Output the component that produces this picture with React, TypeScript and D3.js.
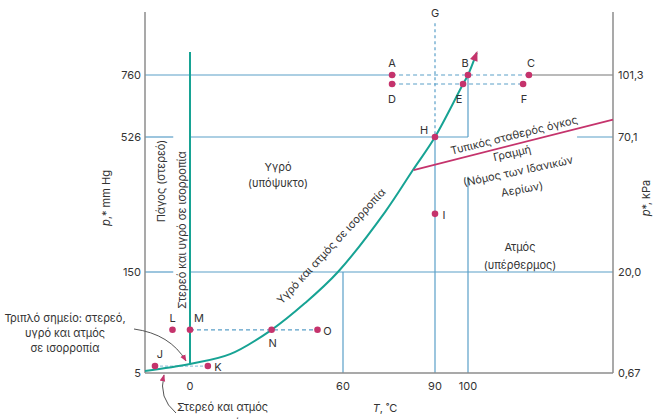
import React from "react";
import * as d3 from "d3";

// Schematic axis anchors (value -> tick)
const tTicks = [0, 60, 90, 100];
const pTicks = [5, 150, 526, 760];
const kPaTicks = ["0,67", "20,0", "70,1", "101,3"];
const tDomain = [-18, 0, 60, 90, 100, 150];
const pDomain = [5, 150, 526, 760, 900];

// Vapour-liquid equilibrium curve (T, p)
const vlCurve: [number, number][] = [
  [-18, 7.9], [0, 18], [15.7, 32], [32, 67], [45, 105], [58, 150],
  [73.7, 317], [82.8, 434], [90, 526], [98.5, 726], [100, 760], [103, 809],
];
// Solid-liquid line at T = 0
const slLine: [number, number][] = [[0, 811], [0, 18]];
// Ideal-gas constant-volume line
const gasLine: [number, number][] = [[83, 434], [150, 592]];

// Labelled states
const pointNames = ["A", "B", "C", "D", "E", "F", "H", "I", "L", "M", "N", "O", "J", "K"];
const pointT = [76, 100, 121, 76, 98.5, 119, 90, 90, -7, 0, 32, 50, -14, 7];
const pointP = [760, 760, 760, 726, 726, 726, 526, 312, 67, 67, 67, 67, 15, 15];
const labelDx = [0, -3, 2, 0, -4, 1, -11, 9, 0, 9, 1, 10, 5, 10];
const labelDy = [-12, -12, -12, 15, 15, 15, -7, 1, -12, -12, 13, 1, -12, 1];

const W = 654, H = 419;

export default function App() {
  const x = d3.scaleLinear().domain(tDomain).range([145, 190, 343, 435, 468, 613]);
  const y = d3.scaleLinear().domain(pDomain).range([373, 272, 137, 75, 12]);
  const line = d3.line<[number, number]>().x(d => x(d[0])).y(d => y(d[1]));
  const curve = d3.line<[number, number]>().x(d => x(d[0])).y(d => y(d[1])).curve(d3.curveCatmullRom.alpha(0.5));

  const blue = "#5a9fc8";
  const teal = "#17a394";
  const mag = "#c5336c";
  const gray = "#8c8c8c";
  const txt = "#333";
  const font = "Inter, 'Noto Sans', sans-serif";

  const hseg = (p: number, t0: number, t1: number, color: string, dash?: string, key?: string) => (
    <line key={key} x1={x(t0)} x2={x(t1)} y1={y(p)} y2={y(p)} stroke={color} strokeWidth={1.2} strokeDasharray={dash} />
  );
  const vseg = (t: number, p0: number, p1: number, color: string, dash?: string, key?: string) => (
    <line key={key} x1={x(t)} x2={x(t)} y1={y(p0)} y2={y(p1)} stroke={color} strokeWidth={1.2} strokeDasharray={dash} />
  );

  const tipA = vlCurve[vlCurve.length - 2];
  const tipB = vlCurve[vlCurve.length - 1];
  const ang = Math.atan2(y(tipB[1]) - y(tipA[1]), x(tipB[0]) - x(tipA[0])) * 180 / Math.PI;

  return (
    <svg width={W} height={H} style={{ position: "absolute", left: 0, top: 0, background: "#fff" }} fontFamily={font}>
      <defs>
        <marker id="ah" viewBox="0 0 10 10" refX="9" refY="5" markerWidth="7" markerHeight="7" orient="auto">
          <path d="M0,1 L10,5 L0,9 z" fill={mag} />
        </marker>
      </defs>

      {/* blue grid/guide lines */}
      {hseg(760, -18, 76, blue)}
      {hseg(760, 121, 150, "#777")}
      {hseg(526, -18, -6.7, blue)}
      {hseg(526, 0, 100, blue)}
      {hseg(526, 137.6, 150, blue)}
      {hseg(150, -18, -6.7, blue)}
      {hseg(150, 0, 150, blue)}
      {vseg(60, 150, 5, blue)}
      {vseg(90, 526, 5, blue)}
      {vseg(100, 760, 526, blue)}
      {vseg(100, 415, 5, blue)}

      {/* dashed guides */}
      {hseg(760, 76, 121, blue, "4,3")}
      {hseg(726, 76, 119, blue, "4,3")}
      {hseg(67, 0, 50, blue, "4,3")}
      {hseg(15, -14, 7, "#9cc7dd", "3,2")}
      {vseg(90, 875, 526, blue, "3,3")}

      {/* axes */}
      <line x1={145} x2={145} y1={12} y2={373} stroke={gray} strokeWidth={1.5} />
      <line x1={613} x2={613} y1={12} y2={373} stroke={gray} strokeWidth={1.5} />
      <line x1={145} x2={613} y1={373} y2={373} stroke={gray} strokeWidth={1.5} />

      {/* phase boundaries */}
      <path d={line(slLine) || ""} stroke={teal} strokeWidth={2} fill="none" />
      <path d={curve(vlCurve) || ""} stroke={teal} strokeWidth={2} fill="none" />
      <path d={`M0,-4 L10,0 L0,4 z`} fill={mag} transform={`translate(${x(tipB[0])},${y(tipB[1])}) rotate(${ang}) translate(-8,0)`} />
      <path d={line(gasLine) || ""} stroke={mag} strokeWidth={1.8} fill="none" />

      {/* points */}
      {pointNames.map((n, i) => (
        <g key={n}>
          <circle cx={x(pointT[i])} cy={y(pointP[i])} r={3.3} fill={mag} />
          <text x={x(pointT[i]) + labelDx[i]} y={y(pointP[i]) + labelDy[i]} fontSize={11} fill={txt} textAnchor="middle" dominantBaseline="central">{n}</text>
        </g>
      ))}
      <text x={x(90)} y={13} fontSize={11} fill={txt} textAnchor="middle" dominantBaseline="central">G</text>

      {/* tick labels */}
      {pTicks.map(p => (
        <text key={p} x={141} y={y(p)} fontSize={11} fill={txt} textAnchor="end" dominantBaseline="central">{p}</text>
      ))}
      {kPaTicks.map((k, i) => (
        <text key={k} x={618} y={y(pTicks[i])} fontSize={11} fill={txt} textAnchor="start" dominantBaseline="central">{k}</text>
      ))}
      {tTicks.map(t => (
        <text key={t} x={x(t)} y={386} fontSize={11} fill={txt} textAnchor="middle" dominantBaseline="central">{t}</text>
      ))}

      {/* axis titles */}
      <text x={385} y={408} fontSize={11} fill={txt} textAnchor="middle" dominantBaseline="central">
        <tspan fontStyle="italic">T</tspan>, ˚C
      </text>
      <text transform="translate(106,198) rotate(-90)" fontSize={11} fill={txt} textAnchor="middle" dominantBaseline="central">
        <tspan fontStyle="italic">p</tspan>,* mm Hg
      </text>
      <text transform="translate(646,198) rotate(-90)" fontSize={11} fill={txt} textAnchor="middle" dominantBaseline="central">
        <tspan fontStyle="italic">p</tspan>*, kPa
      </text>

      {/* region labels */}
      <text transform="translate(161,181) rotate(-90)" fontSize={11} fill={txt} textAnchor="middle" dominantBaseline="central">Πάγος (στερεό)</text>
      <text transform="translate(182,230) rotate(-90)" fontSize={11} fill={txt} textAnchor="middle" dominantBaseline="central">Στερεό και υγρό σε ισορροπία</text>
      <text x={278} y={167} fontSize={11} fill={txt} textAnchor="middle" dominantBaseline="central">Υγρό</text>
      <text x={278} y={183} fontSize={11} fill={txt} textAnchor="middle" dominantBaseline="central">(υπόψυκτο)</text>
      <text transform="translate(331,246) rotate(-47)" fontSize={11} fill={txt} textAnchor="middle" dominantBaseline="central">Υγρό και ατμός σε ισορροπία</text>
      <text transform="translate(514,135) rotate(-14)" fontSize={11} fill={txt} textAnchor="middle" dominantBaseline="central">Τυπικός σταθερός όγκος</text>
      <text transform="translate(512,153) rotate(-13)" fontSize={11} fill={txt} textAnchor="middle" dominantBaseline="central">Γραμμή</text>
      <text transform="translate(518,171) rotate(-12)" fontSize={11} fill={txt} textAnchor="middle" dominantBaseline="central">(Νόμος των Ιδανικών</text>
      <text transform="translate(522,189) rotate(-10)" fontSize={11} fill={txt} textAnchor="middle" dominantBaseline="central">Αερίων)</text>
      <text x={520} y={247} fontSize={11} fill={txt} textAnchor="middle" dominantBaseline="central">Ατμός</text>
      <text x={520} y={265} fontSize={11} fill={txt} textAnchor="middle" dominantBaseline="central">(υπέρθερμος)</text>

      {/* triple point annotation */}
      <text x={65} y={318} fontSize={11} fill={txt} textAnchor="middle" dominantBaseline="central">Τριπλό σημείο: στερεό,</text>
      <text x={65} y={333} fontSize={11} fill={txt} textAnchor="middle" dominantBaseline="central">υγρό και ατμός</text>
      <text x={65} y={348} fontSize={11} fill={txt} textAnchor="middle" dominantBaseline="central">σε ισορροπία</text>
      <path d="M134,329 Q170,334 186,361" stroke="#555" strokeWidth={1} fill="none" markerEnd="url(#ah)" />

      <text x={177} y={407} fontSize={11} fill={txt} textAnchor="start" dominantBaseline="central">Στερεό και ατμός</text>
      <text x={177} y={423} fontSize={11} fill={txt} textAnchor="start" dominantBaseline="central">σε ισορροπία</text>
      <path d="M176,413 Q158,398 164,375" stroke="#555" strokeWidth={1} fill="none" markerEnd="url(#ah)" />
    </svg>
  );
}
